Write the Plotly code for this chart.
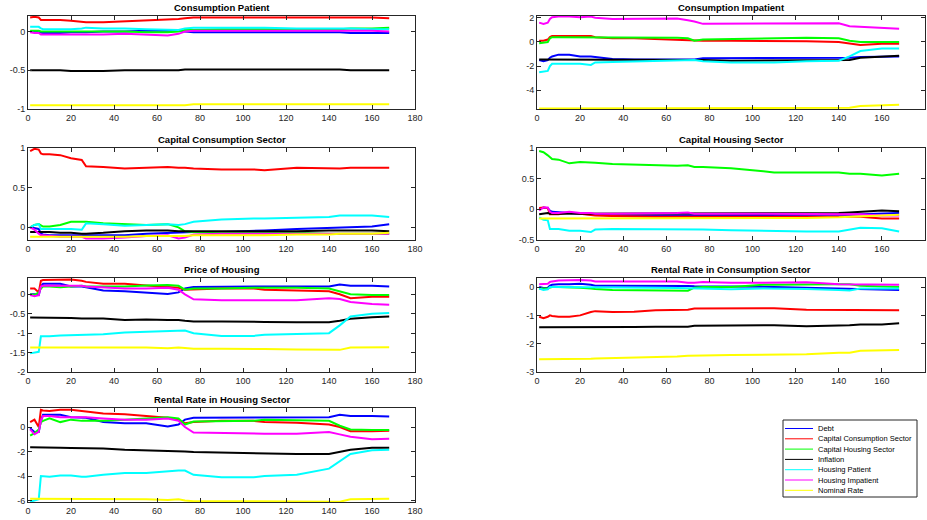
import plotly.graph_objects as go

# ---------------- data ----------------
X = [1, 3, 5, 6, 7, 10, 15, 20, 25, 27, 35, 45, 55, 65, 70, 73, 77, 90, 105, 110, 125, 140, 145, 150, 160, 168]

SERIES = ["Debt", "Capital Consumption Sector", "Capital Housing Sector", "Inflation",
          "Housing Patient", "Housing Impatient", "Nominal Rate"]
COLORS = ["#0000ff", "#ff0000", "#00ff00", "#000000", "#00ffff", "#ff00ff", "#ffff00"]

TITLES = ["Consumption Patient", "Consumption Impatient", "Capital Consumption Sector",
          "Capital Housing Sector", "Price of Housing", "Rental Rate in Consumption Sector",
          "Rental Rate in Housing Sector"]

consumption_patient = [
    [0.0, 0.0, -0.01, -0.02, -0.02, -0.02, -0.02, -0.01, -0.01, -0.01, 0.0, 0.0, 0.01, 0.01, 0.01, 0.0, -0.01, -0.01, -0.01, -0.01, -0.01, -0.01, -0.01, -0.02, -0.02, -0.02],
    [0.18, 0.19, 0.18, 0.15, 0.15, 0.15, 0.15, 0.14, 0.13, 0.12, 0.12, 0.13, 0.14, 0.15, 0.16, 0.17, 0.18, 0.18, 0.18, 0.18, 0.18, 0.18, 0.18, 0.18, 0.18, 0.17],
    [0.01, 0.01, 0.01, 0.0, 0.0, 0.0, 0.0, 0.0, 0.0, 0.0, 0.0, 0.0, -0.01, -0.01, 0.0, 0.02, 0.02, 0.03, 0.03, 0.03, 0.03, 0.03, 0.03, 0.04, 0.04, 0.05],
    [-0.5, -0.5, -0.5, -0.5, -0.5, -0.5, -0.5, -0.51, -0.51, -0.51, -0.51, -0.5, -0.5, -0.5, -0.5, -0.49, -0.49, -0.49, -0.49, -0.49, -0.49, -0.49, -0.49, -0.5, -0.5, -0.5],
    [0.06, 0.06, 0.06, 0.04, 0.03, 0.03, 0.03, 0.03, 0.04, 0.05, 0.04, 0.04, 0.03, 0.02, 0.02, 0.04, 0.05, 0.05, 0.05, 0.05, 0.04, 0.04, 0.04, 0.04, 0.03, 0.03],
    [-0.01, -0.02, -0.02, -0.04, -0.04, -0.04, -0.04, -0.04, -0.04, -0.04, -0.04, -0.03, -0.04, -0.05, -0.03, 0.0, 0.01, 0.01, 0.01, 0.01, 0.01, 0.01, 0.01, 0.01, 0.01, 0.0],
    [-0.95, -0.95, -0.95, -0.95, -0.95, -0.95, -0.95, -0.95, -0.95, -0.95, -0.95, -0.95, -0.95, -0.95, -0.95, -0.95, -0.94, -0.94, -0.94, -0.94, -0.94, -0.94, -0.94, -0.94, -0.94, -0.94],
]

consumption_impatient = [
    [-1.5, -1.6, -1.5, -1.3, -1.2, -1.05, -1.05, -1.2, -1.2, -1.25, -1.4, -1.45, -1.45, -1.45, -1.5, -1.45, -1.35, -1.35, -1.35, -1.35, -1.35, -1.35, -1.3, -1.25, -1.2, -1.2],
    [0.1, 0.1, 0.2, 0.4, 0.5, 0.5, 0.5, 0.5, 0.5, 0.4, 0.3, 0.3, 0.25, 0.2, 0.15, 0.1, 0.1, 0.1, 0.1, 0.1, 0.05, 0.0, -0.1, -0.25, -0.15, -0.15],
    [-0.1, -0.05, 0.0, 0.3, 0.4, 0.4, 0.4, 0.4, 0.4, 0.4, 0.35, 0.35, 0.35, 0.35, 0.3, 0.1, 0.2, 0.25, 0.3, 0.35, 0.35, 0.3, 0.1, 0.0, 0.0, 0.0],
    [-1.45, -1.45, -1.45, -1.45, -1.45, -1.45, -1.45, -1.45, -1.45, -1.45, -1.45, -1.45, -1.45, -1.5, -1.5, -1.5, -1.5, -1.55, -1.55, -1.55, -1.55, -1.55, -1.5, -1.3, -1.2, -1.15],
    [-2.5, -2.45, -2.4, -2.0, -1.8, -1.8, -1.8, -1.8, -1.9, -1.7, -1.65, -1.6, -1.55, -1.5, -1.5, -1.5, -1.6, -1.7, -1.7, -1.7, -1.6, -1.55, -1.2, -0.75, -0.55, -0.55],
    [1.6, 1.5, 1.6, 1.9, 2.05, 2.1, 2.1, 2.05, 2.1, 2.0, 1.9, 1.9, 1.9, 1.95, 1.8, 1.7, 1.5, 1.5, 1.5, 1.5, 1.5, 1.55, 1.3, 1.25, 1.15, 1.1],
    [-5.5, -5.5, -5.5, -5.5, -5.5, -5.5, -5.5, -5.5, -5.5, -5.5, -5.5, -5.5, -5.5, -5.5, -5.5, -5.5, -5.5, -5.5, -5.5, -5.5, -5.5, -5.5, -5.45, -5.3, -5.25, -5.2],
]

capital_consumption = [
    [0.0, -0.01, -0.02, -0.08, -0.09, -0.1, -0.1, -0.1, -0.1, -0.1, -0.1, -0.1, -0.08, -0.07, -0.06, -0.06, -0.06, -0.06, -0.05, -0.04, -0.02, -0.01, 0.0, 0.0, 0.01, 0.04],
    [0.96, 0.99, 0.98, 0.93, 0.92, 0.92, 0.91, 0.87, 0.85, 0.77, 0.76, 0.74, 0.75, 0.76, 0.75, 0.75, 0.74, 0.73, 0.73, 0.72, 0.75, 0.74, 0.74, 0.75, 0.75, 0.75],
    [0.0, 0.03, 0.04, 0.02, 0.01, 0.01, 0.03, 0.07, 0.07, 0.07, 0.05, 0.04, 0.03, 0.04, 0.0, -0.05, -0.06, -0.07, -0.07, -0.07, -0.07, -0.08, -0.08, -0.08, -0.08, -0.08],
    [-0.06, -0.06, -0.06, -0.06, -0.06, -0.06, -0.07, -0.07, -0.08, -0.08, -0.07, -0.05, -0.04, -0.04, -0.05, -0.05, -0.05, -0.05, -0.05, -0.05, -0.05, -0.04, -0.04, -0.04, -0.04, -0.05],
    [0.0, 0.03, 0.04, -0.02, -0.02, -0.02, -0.02, -0.02, -0.03, 0.05, 0.04, 0.02, 0.03, 0.04, 0.03, 0.04, 0.07, 0.1, 0.11, 0.11, 0.12, 0.13, 0.15, 0.15, 0.15, 0.13],
    [0.0, -0.03, -0.08, -0.1, -0.1, -0.11, -0.12, -0.12, -0.12, -0.14, -0.14, -0.13, -0.11, -0.1, -0.14, -0.13, -0.09, -0.08, -0.08, -0.08, -0.08, -0.08, -0.08, -0.08, -0.08, -0.08],
    [-0.12, -0.12, -0.12, -0.12, -0.12, -0.12, -0.12, -0.12, -0.12, -0.12, -0.12, -0.12, -0.11, -0.11, -0.11, -0.11, -0.1, -0.1, -0.1, -0.1, -0.09, -0.09, -0.08, -0.08, -0.08, -0.07],
]

capital_housing = [
    [0.0, 0.03, 0.02, -0.02, -0.04, -0.05, -0.06, -0.07, -0.08, -0.09, -0.1, -0.1, -0.1, -0.1, -0.1, -0.1, -0.1, -0.1, -0.1, -0.1, -0.1, -0.09, -0.09, -0.08, -0.07, -0.06],
    [0.02, 0.03, 0.02, -0.08, -0.08, -0.08, -0.05, -0.07, -0.08, -0.1, -0.11, -0.12, -0.12, -0.12, -0.12, -0.12, -0.12, -0.12, -0.12, -0.12, -0.12, -0.12, -0.12, -0.12, -0.15, -0.15],
    [0.95, 0.93, 0.88, 0.85, 0.82, 0.81, 0.75, 0.77, 0.77, 0.76, 0.74, 0.73, 0.72, 0.71, 0.72, 0.69, 0.69, 0.67, 0.62, 0.6, 0.6, 0.6, 0.58, 0.58, 0.55, 0.58],
    [-0.08, -0.07, -0.06, -0.07, -0.07, -0.07, -0.06, -0.06, -0.07, -0.07, -0.07, -0.07, -0.06, -0.06, -0.06, -0.06, -0.06, -0.06, -0.06, -0.06, -0.06, -0.06, -0.05, -0.04, -0.02, -0.03],
    [-0.13, -0.17, -0.18, -0.32, -0.32, -0.32, -0.35, -0.35, -0.37, -0.33, -0.32, -0.32, -0.32, -0.32, -0.32, -0.32, -0.33, -0.34, -0.35, -0.36, -0.36, -0.36, -0.33, -0.3, -0.31, -0.36],
    [-0.02, 0.03, 0.03, -0.04, -0.06, -0.06, -0.04, -0.06, -0.06, -0.07, -0.07, -0.07, -0.07, -0.06, -0.05, -0.07, -0.07, -0.07, -0.07, -0.07, -0.07, -0.07, -0.08, -0.08, -0.1, -0.1],
    [-0.15, -0.15, -0.15, -0.15, -0.15, -0.15, -0.15, -0.15, -0.15, -0.15, -0.15, -0.15, -0.15, -0.15, -0.15, -0.15, -0.15, -0.15, -0.14, -0.14, -0.14, -0.13, -0.12, -0.11, -0.1, -0.09],
]

price_of_housing = [
    [0.0, 0.0, -0.02, 0.2, 0.27, 0.27, 0.27, 0.2, 0.2, 0.18, 0.1, 0.08, 0.05, 0.01, 0.05, 0.15, 0.19, 0.2, 0.2, 0.2, 0.2, 0.2, 0.25, 0.22, 0.22, 0.2],
    [0.15, 0.15, 0.05, 0.35, 0.37, 0.37, 0.38, 0.38, 0.35, 0.32, 0.27, 0.27, 0.23, 0.2, 0.17, 0.12, 0.13, 0.15, 0.15, 0.12, 0.1, 0.08, 0.0, -0.1, -0.06, -0.06],
    [0.0, -0.02, 0.05, 0.15, 0.2, 0.2, 0.18, 0.2, 0.22, 0.2, 0.2, 0.2, 0.23, 0.24, 0.22, 0.12, 0.15, 0.15, 0.17, 0.17, 0.17, 0.15, 0.07, 0.0, -0.02, -0.02],
    [-0.6, -0.6, -0.6, -0.6, -0.6, -0.6, -0.6, -0.61, -0.62, -0.62, -0.62, -0.66, -0.65, -0.66, -0.66, -0.68, -0.7, -0.7, -0.7, -0.71, -0.72, -0.72, -0.68, -0.63, -0.59, -0.57],
    [-1.52, -1.5, -1.48, -1.08, -1.08, -1.08, -1.06, -1.05, -1.05, -1.05, -1.03, -0.98, -0.96, -0.93, -0.92, -0.93, -1.0, -1.07, -1.07, -1.04, -1.02, -1.0, -0.8, -0.57, -0.5, -0.48],
    [-0.02, -0.05, -0.02, 0.2, 0.22, 0.23, 0.22, 0.22, 0.22, 0.2, 0.18, 0.15, 0.15, 0.17, 0.12, 0.0, -0.13, -0.15, -0.15, -0.15, -0.15, -0.1, -0.12, -0.2, -0.25, -0.27],
    [-1.37, -1.37, -1.37, -1.37, -1.37, -1.37, -1.37, -1.37, -1.37, -1.37, -1.37, -1.37, -1.37, -1.39, -1.37, -1.38, -1.4, -1.4, -1.4, -1.41, -1.42, -1.43, -1.43, -1.37, -1.36, -1.36],
]

rental_consumption = [
    [0.0, -0.03, -0.02, 0.05, 0.08, 0.1, 0.1, 0.12, 0.08, 0.05, 0.05, 0.05, 0.06, 0.05, 0.04, 0.03, 0.03, 0.03, 0.01, 0.0, -0.03, -0.05, -0.06, -0.08, -0.09, -0.1],
    [-1.05, -1.1, -1.05, -1.0, -1.02, -1.05, -1.05, -1.0, -0.88, -0.85, -0.88, -0.87, -0.82, -0.8, -0.8, -0.76, -0.76, -0.75, -0.77, -0.75, -0.8, -0.8, -0.8, -0.8, -0.82, -0.82],
    [-0.05, -0.05, -0.05, -0.02, 0.0, 0.0, 0.0, -0.02, -0.05, -0.07, -0.1, -0.11, -0.12, -0.15, -0.13, -0.02, 0.0, 0.0, 0.08, 0.08, 0.1, 0.1, 0.1, 0.05, 0.02, 0.0],
    [-1.42, -1.42, -1.42, -1.42, -1.42, -1.43, -1.43, -1.42, -1.42, -1.42, -1.42, -1.41, -1.4, -1.4, -1.4, -1.37, -1.37, -1.36, -1.35, -1.35, -1.38, -1.37, -1.35, -1.32, -1.32, -1.28],
    [-0.05, -0.1, -0.08, 0.0, 0.0, 0.0, 0.0, 0.0, -0.02, -0.02, -0.02, -0.02, -0.02, -0.03, -0.04, -0.05, -0.06, -0.08, -0.05, -0.05, -0.07, -0.1, -0.12, -0.05, -0.05, -0.05],
    [0.1, 0.12, 0.12, 0.18, 0.2, 0.23, 0.25, 0.25, 0.23, 0.2, 0.2, 0.2, 0.22, 0.2, 0.15, 0.15, 0.18, 0.15, 0.15, 0.15, 0.17, 0.1, 0.1, 0.1, 0.08, 0.08],
    [-2.55, -2.55, -2.55, -2.55, -2.55, -2.55, -2.54, -2.54, -2.53, -2.52, -2.51, -2.5, -2.47, -2.45, -2.43, -2.42, -2.42, -2.4, -2.38, -2.38, -2.37, -2.32, -2.32, -2.25, -2.23, -2.22],
]

rental_housing = [
    [-0.1, -0.4, -0.4, 0.5, 1.0, 1.0, 1.0, 0.8, 0.8, 0.75, 0.4, 0.3, 0.3, 0.05, 0.2, 0.6, 0.75, 0.75, 0.75, 0.75, 0.75, 0.8, 1.0, 0.9, 0.9, 0.85],
    [0.4, 0.6, 0.0, 1.4, 1.35, 1.3, 1.4, 1.4, 1.3, 1.25, 1.1, 1.05, 0.9, 0.75, 0.6, 0.3, 0.4, 0.5, 0.5, 0.4, 0.35, 0.2, 0.0, -0.35, -0.35, -0.3],
    [-0.7, -0.5, -0.2, 0.4, 0.5, 0.7, 0.4, 0.6, 0.5, 0.5, 0.5, 0.6, 0.7, 0.8, 0.7, 0.2, 0.45, 0.45, 0.5, 0.6, 0.55, 0.5, 0.1, -0.2, -0.25, -0.25],
    [-1.65, -1.65, -1.7, -1.7, -1.7, -1.7, -1.7, -1.72, -1.73, -1.73, -1.75, -1.85, -1.9, -1.95, -1.95, -2.0, -2.05, -2.1, -2.1, -2.15, -2.2, -2.2, -2.0, -1.85, -1.7, -1.7],
    [-6.1, -6.0, -5.9, -4.0, -4.0, -4.05, -3.95, -3.95, -4.05, -4.05, -3.9, -3.75, -3.75, -3.6, -3.55, -3.55, -3.9, -4.1, -4.1, -4.0, -3.9, -3.4, -2.8, -2.2, -1.9, -1.85],
    [-0.2, -0.6, -0.4, 0.5, 0.9, 0.9, 0.8, 0.8, 0.85, 0.8, 0.7, 0.6, 0.6, 0.7, 0.5, 0.0, -0.45, -0.5, -0.55, -0.55, -0.55, -0.4, -0.6, -0.8, -1.0, -0.95],
    [-5.85, -5.85, -5.85, -5.85, -5.85, -5.85, -5.85, -5.85, -5.86, -5.86, -5.88, -5.88, -5.9, -5.95, -5.9, -6.0, -6.05, -6.05, -6.05, -6.08, -6.1, -6.1, -6.1, -5.9, -5.85, -5.85],
]

PANELS = [consumption_patient, consumption_impatient, capital_consumption, capital_housing,
          price_of_housing, rental_consumption, rental_housing]

X_TICKS = [0, 20, 40, 60, 80, 100, 120, 140, 160, 180]
Y_TICKS = [
    [-1, -0.5, 0],
    [-4, -2, 0, 2],
    [0, 0.5, 1],
    [-0.5, 0, 0.5, 1],
    [-2, -1.5, -1, -0.5, 0],
    [-3, -2, -1, 0],
    [-6, -4, -2, 0],
]
Y_TICK_LABELS = [
    ["-1", "-0.5", "0"],
    ["-4", "-2", "0", "2"],
    ["0", "0.5", "1"],
    ["-0.5", "0", "0.5", "1"],
    ["-2", "-1.5", "-1", "-0.5", "0"],
    ["-3", "-2", "-1", "0"],
    ["-6", "-4", "-2", "0"],
]
Y_RANGES = [
    [-1, 0.2],
    [-5.55, 2.15],
    [-0.16, 1.0],
    [-0.5, 1.0],
    [-2, 0.42],
    [-3, 0.32],
    [-6.12, 1.55],
]

# ---------------- layout geometry ----------------
W, H = 927, 520
COLS = [(28, 415), (537, 925)]
ROWS = [(16, 109), (148, 240), (278, 372), (408, 502)]

fig = go.Figure()
axis_color = "#262626"
font_family = "Liberation Sans, Arial, sans-serif"

layout_axes = {}
annotations = []
shapes = []
for p, data in enumerate(PANELS):
    r, c = divmod(p, 2)
    x0, x1 = COLS[c]
    y0, y1 = ROWS[r]
    idx = "" if p == 0 else str(p + 1)
    xa, ya = "x" + idx, "y" + idx
    for s, (name, col) in enumerate(zip(SERIES, COLORS)):
        fig.add_trace(go.Scatter(
            x=X, y=data[s], mode="lines", name=name,
            line=dict(color=col, width=2),
            xaxis=xa, yaxis=ya, showlegend=False,
        ))
    common = dict(showline=True, linecolor=axis_color, linewidth=1, mirror="ticks",
                  ticks="inside", ticklen=4, tickcolor=axis_color, showgrid=False,
                  zeroline=False, automargin=False,
                  tickfont=dict(family=font_family, size=9, color=axis_color))
    layout_axes["xaxis" + idx] = dict(common, domain=[x0 / W, x1 / W], anchor=ya,
                                      range=[0, 180], tickmode="array", tickvals=X_TICKS,
                                      ticktext=[str(t) for t in X_TICKS])
    layout_axes["yaxis" + idx] = dict(common, domain=[1 - y1 / H, 1 - y0 / H], anchor=xa,
                                      range=Y_RANGES[p], tickmode="array", tickvals=Y_TICKS[p],
                                      ticktext=Y_TICK_LABELS[p])
    annotations.append(dict(text="<b>" + TITLES[p] + "</b>", xref="paper", yref="paper",
                            x=(x0 + x1) / 2 / W, y=1 - (y0 - 1) / H, xanchor="center",
                            yanchor="bottom", showarrow=False,
                            font=dict(family=font_family, size=9.5, color="#000000")))

# ---------------- legend (drawn as box + line samples + text labels) ----------------
LEG_BOX = (783, 420, 917, 497)
LEG_Y0, LEG_DY = 428.5, 10.3
shapes.append(dict(type="rect", xref="paper", yref="paper",
                   x0=LEG_BOX[0] / W, x1=LEG_BOX[2] / W,
                   y0=1 - LEG_BOX[3] / H, y1=1 - LEG_BOX[1] / H,
                   line=dict(color="#262626", width=1), fillcolor="white", layer="above"))
for i, (name, col) in enumerate(zip(SERIES, COLORS)):
    yy = 1 - (LEG_Y0 + i * LEG_DY) / H
    shapes.append(dict(type="line", xref="paper", yref="paper",
                       x0=785 / W, x1=813 / W, y0=yy, y1=yy,
                       line=dict(color=col, width=1), layer="above"))
    annotations.append(dict(text=name, xref="paper", yref="paper", x=816 / W, y=yy,
                            xanchor="left", yanchor="middle", showarrow=False,
                            font=dict(family=font_family, size=7.5, color="#000000")))

fig.update_layout(
    width=W, height=H, margin=dict(l=0, r=0, t=0, b=0, autoexpand=False),
    paper_bgcolor="white", plot_bgcolor="white",
    annotations=annotations, shapes=shapes, showlegend=False,
    **layout_axes,
)

fig.write_html("out.html", config={"displayModeBar": False},
               post_script="document.body.style.margin='0';document.body.style.overflow='hidden';")
